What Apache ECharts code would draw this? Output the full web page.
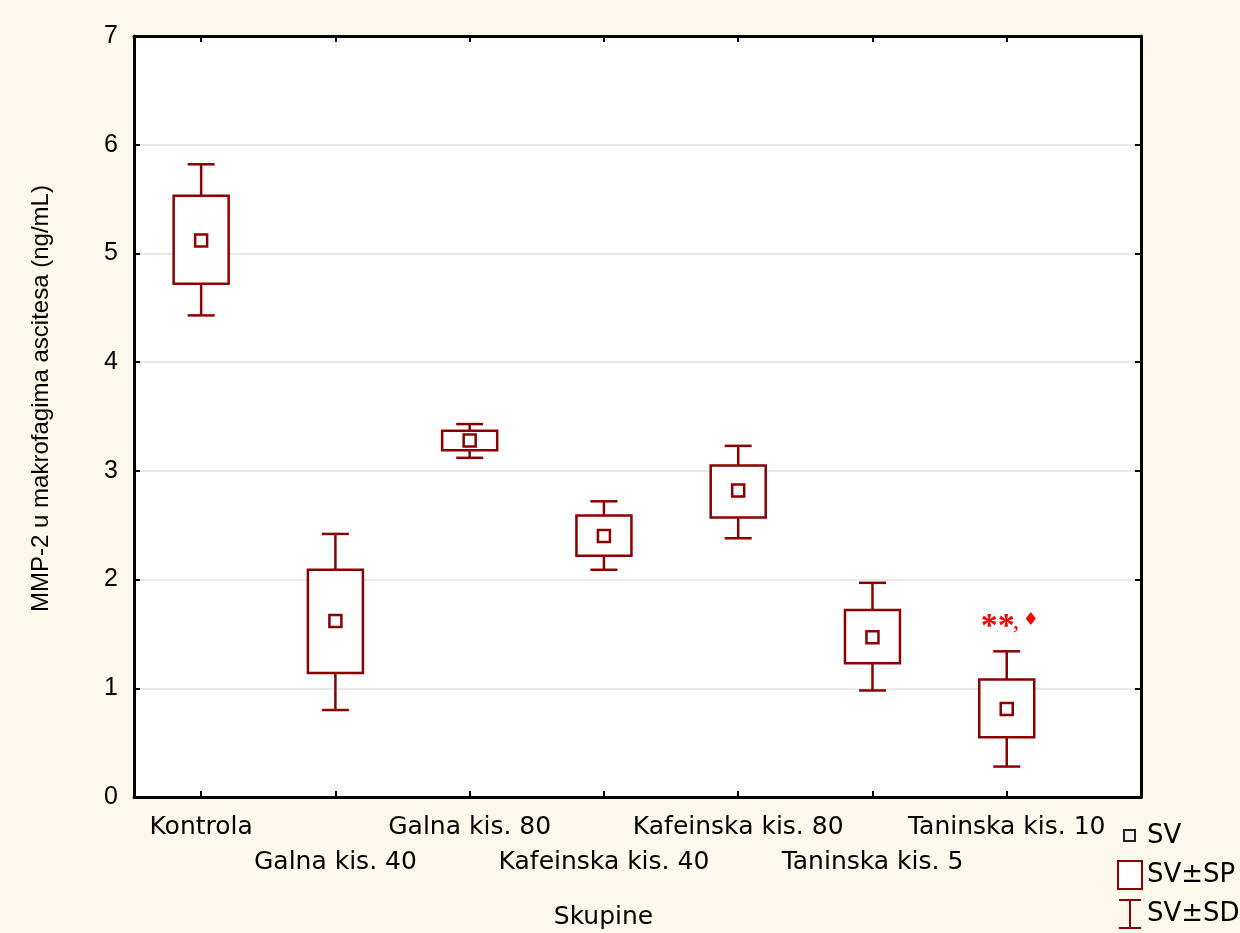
<!DOCTYPE html>
<html>
<head>
<meta charset="utf-8">
<script src="https://cdn.jsdelivr.net/npm/echarts@6/dist/echarts.min.js"></script>
<style>
html,body{margin:0;padding:0;background:#fdf8ec;}
#chart{width:1240px;height:933px;}
</style>
</head>
<body>
<div id="chart"></div>
<script>
// ---- data ----
var categories = ['Kontrola','Galna kis. 40','Galna kis. 80','Kafeinska kis. 40','Kafeinska kis. 80','Taninska kis. 5','Taninska kis. 10'];
var meanValues = [5.12, 1.62, 3.28, 2.40, 2.82, 1.47, 0.81];
var seLow      = [4.72, 1.14, 3.19, 2.22, 2.57, 1.23, 0.55];
var seHigh     = [5.53, 2.09, 3.37, 2.59, 3.05, 1.72, 1.08];
var sdLow      = [4.43, 0.80, 3.12, 2.09, 2.38, 0.98, 0.28];
var sdHigh     = [5.82, 2.42, 3.43, 2.72, 3.23, 1.97, 1.34];
var annoStars  = ['', '', '', '', '', '', '**'];
var annoMarks  = ['', '', '', '', '', '', '\u2666'];
var yTicks = [0, 1, 2, 3, 4, 5, 6, 7];
var yTitle = 'MMP-2 u makrofagima ascitesa (ng/mL)';
var xTitle = 'Skupine';
var legendLabels = ['SV', 'SV\u00b1SP', 'SV\u00b1SD'];

var COL = '#8b0000';
var tickPositions = categories.map(function (c, i) { return i; });
var rowOne = tickPositions.filter(function (i) { return i % 2 === 0; });
var rowTwo = tickPositions.filter(function (i) { return i % 2 === 1; });
var seriesData = categories.map(function (c, i) {
  return [i, meanValues[i], seLow[i], seHigh[i], sdLow[i], sdHigh[i]];
});

function renderItem(params, api) {
  var i = api.value(0);
  var pMean = api.coord([i, api.value(1)]);
  var pSeL = api.coord([i, api.value(2)]);
  var pSeH = api.coord([i, api.value(3)]);
  var pSdL = api.coord([i, api.value(4)]);
  var pSdH = api.coord([i, api.value(5)]);
  var x = pMean[0];
  var bw = 55, cw = 27, ms = 12;
  var ls = { stroke: COL, lineWidth: 2.5, fill: null };
  var children = [
    { type: 'line', shape: { x1: x, y1: pSeH[1], x2: x, y2: pSdH[1] }, style: ls },
    { type: 'line', shape: { x1: x, y1: pSeL[1], x2: x, y2: pSdL[1] }, style: ls },
    { type: 'line', shape: { x1: x - cw / 2, y1: pSdH[1], x2: x + cw / 2, y2: pSdH[1] }, style: ls },
    { type: 'line', shape: { x1: x - cw / 2, y1: pSdL[1], x2: x + cw / 2, y2: pSdL[1] }, style: ls },
    { type: 'rect', shape: { x: x - bw / 2, y: pSeH[1], width: bw, height: pSeL[1] - pSeH[1] },
      style: { stroke: COL, lineWidth: 2.5, fill: '#ffffff' } },
    { type: 'rect', shape: { x: x - ms / 2, y: pMean[1] - ms / 2, width: ms, height: ms },
      style: { stroke: COL, lineWidth: 2.5, fill: '#ffffff' } }
  ];
  var stars = annoStars[params.dataIndex];
  if (stars) {
    children.push({ type: 'text', style: {
      x: x - 26, y: pSdH[1] - 24, text: stars, align: 'left', verticalAlign: 'middle',
      fill: '#ff0000', fontFamily: 'Liberation Serif', fontWeight: 'bold', fontSize: 34 } });
    children.push({ type: 'text', style: {
      x: x + 6, y: pSdH[1] - 29, text: ',', align: 'left', verticalAlign: 'middle',
      fill: '#ff0000', fontFamily: 'Liberation Serif', fontSize: 26 } });
  }
  var mark = annoMarks[params.dataIndex];
  if (mark) {
    children.push({ type: 'text', style: {
      x: x + 24, y: pSdH[1] - 31, text: mark, align: 'center', verticalAlign: 'middle',
      fill: '#ff0000', fontFamily: 'DejaVu Sans', fontSize: 18 } });
  }
  return { type: 'group', children: children };
}

var chart = echarts.init(document.getElementById('chart'), null, { renderer: 'canvas' });
var txtFont = 'DejaVu Sans';
var lx = 1118, lTextX = 1147;
var frame = { show: true, onZero: false, lineStyle: { color: '#000', width: 3 } };
var tickStyle = { color: '#000', width: 2 };
var catLabel = function (v) { return categories[Math.round(v)]; };
chart.setOption({
  backgroundColor: '#fdf8ec',
  animation: false,
  grid: { left: 134, top: 36, right: 99, bottom: 136, show: true, backgroundColor: '#ffffff', borderWidth: 0,
          containLabel: false, outerBoundsMode: 'none' },
  xAxis: [{
    type: 'value', min: -0.5, max: 7, position: 'bottom',
    name: xTitle, nameLocation: 'middle', nameGap: 108,
    nameTextStyle: { fontFamily: txtFont, fontSize: 25, color: '#000', padding: [0, 68, 0, 0] },
    axisLine: frame,
    splitLine: { show: false },
    axisTick: { show: true, inside: true, length: 6, customValues: tickPositions, lineStyle: tickStyle },
    axisLabel: {
      show: true, customValues: rowOne, margin: 18, hideOverlap: false,
      fontFamily: txtFont, fontSize: 25, color: '#000', formatter: catLabel
    }
  }, {
    type: 'value', min: -0.5, max: 7, position: 'top',
    axisLine: frame, splitLine: { show: false }, axisLabel: { show: false },
    axisTick: { show: true, inside: true, length: 6, customValues: tickPositions, lineStyle: tickStyle }
  }, {
    type: 'value', min: -0.5, max: 7, position: 'bottom',
    axisLine: { show: false }, splitLine: { show: false }, axisTick: { show: false },
    axisLabel: {
      show: true, customValues: rowTwo, margin: 53, hideOverlap: false,
      fontFamily: txtFont, fontSize: 25, color: '#000', formatter: catLabel
    }
  }],
  yAxis: [{
    type: 'value', min: 0, max: 7, interval: 1, position: 'left',
    name: yTitle, nameLocation: 'middle', nameGap: 81, nameRotate: 90,
    nameTextStyle: { fontFamily: 'Liberation Sans', fontSize: 24, color: '#000', padding: [0, 0, 0, 36] },
    axisLine: frame,
    splitLine: { show: true, lineStyle: { color: '#e2e2e2', width: 1.5 } },
    axisTick: { show: true, inside: true, length: 6, lineStyle: tickStyle },
    axisLabel: { margin: 16, fontFamily: 'Liberation Sans', fontSize: 25, color: '#000',
      formatter: function (v) { return yTicks.indexOf(v) >= 0 ? String(v) : ''; } }
  }, {
    type: 'value', min: 0, max: 7, interval: 1, position: 'right',
    axisLine: frame, splitLine: { show: false }, axisLabel: { show: false },
    axisTick: { show: true, inside: true, length: 6, lineStyle: tickStyle }
  }],
  series: [{
    type: 'custom', xAxisIndex: 0, yAxisIndex: 0,
    renderItem: renderItem, data: seriesData, z: 10, clip: false
  }],
  graphic: [
    { type: 'rect', shape: { x: 1124, y: 830, width: 11, height: 11 }, style: { stroke: '#222', lineWidth: 2, fill: '#f0f0f0' } },
    { type: 'text', style: { x: lTextX, y: 836, text: legendLabels[0], fontFamily: txtFont, fontSize: 26, fill: '#000', verticalAlign: 'middle' } },
    { type: 'rect', shape: { x: lx, y: 861, width: 24, height: 28 }, style: { stroke: COL, lineWidth: 2, fill: '#ffffff' } },
    { type: 'text', style: { x: lTextX, y: 875, text: legendLabels[1], fontFamily: txtFont, fontSize: 26, fill: '#000', verticalAlign: 'middle' } },
    { type: 'line', shape: { x1: lx + 1, y1: 900, x2: lx + 23, y2: 900 }, style: { stroke: COL, lineWidth: 2 } },
    { type: 'line', shape: { x1: lx + 12, y1: 900, x2: lx + 12, y2: 928 }, style: { stroke: COL, lineWidth: 2 } },
    { type: 'line', shape: { x1: lx + 1, y1: 928, x2: lx + 23, y2: 928 }, style: { stroke: COL, lineWidth: 2 } },
    { type: 'text', style: { x: lTextX, y: 914, text: legendLabels[2], fontFamily: txtFont, fontSize: 26, fill: '#000', verticalAlign: 'middle' } }
  ]
});
</script>
</body>
</html>
